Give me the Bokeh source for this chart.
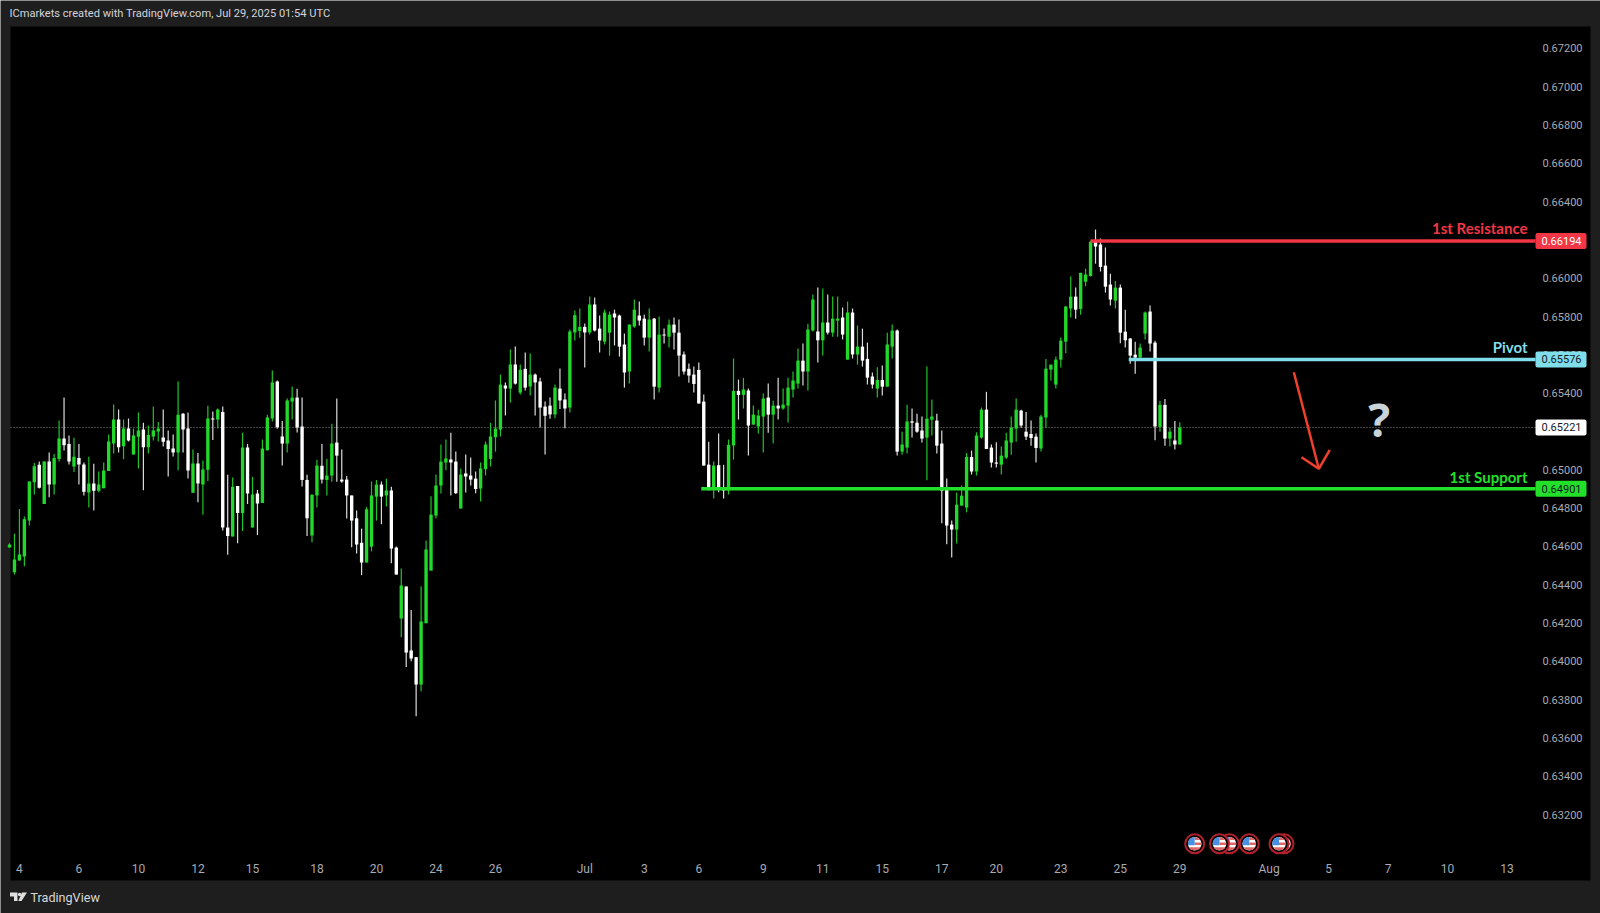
import numpy as np
from bokeh.plotting import figure
from bokeh.models import ColumnDataSource, Range1d, FixedTicker, LinearAxis, NumeralTickFormatter
from bokeh.core.properties import value
from bokeh.embed import file_html
from bokeh.resources import INLINE

# Prices in 1e-5 units
opens = [
64595,64465,64527,64547,64735,64935,65026,64822,65043,64923,
65057,65163,65135,65017,65062,65028,64881,64928,64890,64904,
64994,65137,65262,65123,65215,65080,65172,65210,65118,65174,
65200,65168,65153,65111,65090,65292,65215,64880,65033,64923,
65000,65268,65262,65302,64699,64652,64916,64775,65116,64699,
64876,64827,65102,65268,65461,65174,65137,65356,65377,65226,
64947,64657,64866,65021,64947,64970,65142,64949,64949,64866,
64747,64619,64516,64599,64860,64923,64866,64892,64594,64224,
64391,64057,64022,63879,64199,64474,64761,64918,65038,65054,
65043,64798,64981,64970,64954,64902,65003,65057,65170,65210,
65440,65424,65550,65403,65527,65435,65497,65461,65330,65335,
65289,65424,65367,65325,65717,65725,65746,65717,65863,65737,
65669,65716,65816,65805,65654,65513,65748,65805,65789,65690,
65789,65429,65706,65695,65758,65716,65602,65527,65497,65521,
65356,65027,64897,65024,64902,64892,65127,65412,65391,65414,
65236,65226,65278,65377,65288,65335,65320,65335,65419,65450,
65570,65513,65727,65722,65676,65769,65716,65779,65795,65575,
65821,65602,65643,65579,65487,65424,65469,65434,65643,65727,
65095,65116,65253,65246,65205,65168,65262,65257,65137,64900,
64714,64688,64813,64803,65067,64991,65168,65314,65116,65038,
65027,65064,65142,65215,65309,65199,65187,65173,65111,65273,
65523,65445,65575,65669,65842,65904,65840,65982,66012,66191,
66176,66066,65967,65883,65951,65721,65685,65601,65586,65711,
65826,65664,65224,65339,65163,65153,65132]
closes = [
64610,64532,64558,64742,64939,65019,64906,65043,64923,65062,
65163,65128,65043,65068,65028,64885,64928,64890,64923,64996,
65148,65262,65118,65215,65153,65179,65205,65118,65182,65205,
65215,65146,65109,65090,65287,65210,64996,65033,64928,65001,
65268,65262,65315,64699,64655,64911,64775,65116,64876,64871,
64824,65111,65273,65456,65222,65137,65362,65377,65221,64947,
64747,64869,65022,64949,64970,65137,65074,64939,64866,64735,
64610,64516,64794,64866,64923,64860,64892,64589,64453,64396,
64046,64015,63879,64208,64584,64766,64918,65043,65059,65038,
64878,64975,64965,64949,64900,65007,65132,65174,65215,65445,
65424,65550,65450,65522,65429,65497,65456,65325,65282,65289,
65429,65362,65320,65722,65807,65746,65717,65863,65727,65675,
65821,65810,65795,65643,65508,65758,65836,65779,65690,65784,
65434,65706,65701,65758,65716,65596,65513,65492,65448,65346,
65022,64902,65022,64897,64892,65130,65412,65391,65419,65231,
65288,65283,65372,65288,65335,65320,65340,65429,65466,65570,
65513,65732,65889,65676,65769,65716,65789,65789,65706,65821,
65602,65643,65570,65481,65445,65469,65434,65654,65727,65095,
65132,65252,65246,65199,65163,65267,65278,65126,64891,64709,
64688,64818,64865,65067,64991,65179,65314,65109,65038,65032,
65074,65153,65220,65314,65231,65173,65166,65114,65278,65528,
65549,65575,65674,65852,65904,65836,66028,66019,66191,66165,
66059,65956,65889,65951,65716,65676,65596,65586,65638,65821,
65659,65226,65339,65163,65199,65132,65221]
highs = [
64617,64666,64796,64756,64939,65036,65043,65043,65090,65083,
65257,65377,65179,65167,65135,65038,65068,65031,64991,65038,
65184,65341,65315,65262,65268,65215,65299,65245,65231,65330,
65250,65315,65205,65184,65461,65297,65299,65106,65088,65048,
65334,65304,65320,65330,64974,64960,64916,65193,65135,64963,
64895,65158,65287,65518,65466,65255,65372,65435,65423,65377,
64974,64874,65052,65135,65057,65240,65372,65106,64968,64866,
64787,64693,64805,64939,64947,64939,64953,64911,64599,64485,
64391,64268,64022,64391,64631,64862,64975,65132,65158,65193,
65095,65007,65080,65064,64991,65038,65148,65245,65362,65497,
65456,65628,65643,65550,65612,65607,65503,65480,65356,65377,
65445,65529,65398,65732,65831,65842,65764,65904,65899,65805,
65836,65826,65836,65810,65711,65758,65889,65878,65810,65842,
65793,65800,65737,65784,65795,65784,65617,65555,65539,65560,
65393,65147,65043,65189,65026,65158,65581,65471,65480,65424,
65335,65314,65398,65450,65361,65481,65424,65481,65513,65633,
65659,65763,65915,65951,65946,65915,65904,65904,65847,65878,
65842,65753,65737,65664,65508,65535,65544,65716,65758,65732,
65199,65340,65320,65293,65278,65539,65367,65293,65205,64954,
64735,64881,64918,65088,65100,65196,65325,65407,65132,65144,
65121,65193,65278,65372,65314,65302,65257,65189,65288,65579,
65549,65591,65690,65855,66009,65951,66029,66050,66197,66254,
66207,66160,66024,65986,65967,65836,65688,65669,65659,65826,
65857,65674,65360,65370,65220,65255,65248]
lows = [
64595,64453,64527,64497,64709,64871,64902,64822,64857,64871,
65043,65101,65028,64988,64923,64866,64803,64787,64883,64904,
64994,65085,65090,65055,65148,65080,65007,64893,65085,65153,
65148,65121,64965,65069,64998,65090,64954,64880,64831,64765,
64942,65156,65215,64683,64556,64652,64617,64680,64822,64699,
64659,64827,65101,65252,65214,65022,65090,65262,65195,64913,
64655,64622,64803,64928,64866,64937,64937,64932,64746,64596,
64563,64450,64516,64574,64735,64716,64808,64512,64453,64126,
63970,64000,63714,63844,64199,64474,64746,64876,64998,64866,
64874,64798,64881,64918,64878,64834,64970,65017,65095,65174,
65283,65351,65445,65393,65414,65388,65283,65221,65080,65266,
65269,65318,65217,65299,65675,65689,65534,65706,65722,65612,
65654,65596,65649,65591,65429,65450,65742,65753,65649,65617,
65367,65403,65659,65638,65628,65487,65497,65455,65403,65346,
65022,64892,64850,64883,64850,64871,65053,65262,65320,65074,
65236,65189,65090,65194,65137,65262,65314,65247,65377,65424,
65440,65414,65722,65560,65596,65706,65695,65695,65680,65575,
65581,65549,65539,65445,65424,65377,65388,65434,65581,65074,
65079,65085,65168,65194,65142,64945,65179,65085,64721,64611,
64542,64615,64813,64778,64975,64970,65163,65109,65012,65012,
64975,65057,65079,65147,65220,65156,65126,65038,65095,65220,
65466,65424,65534,65608,65795,65789,65810,65958,66009,66076,
66035,65925,65857,65842,65661,65638,65554,65502,65586,65680,
65617,65154,65199,65126,65121,65106,65132]

price_ticks = [0.632 + 0.002 * k for k in range(21)]
date_labels = ["4","6","10","12","15","18","20","24","26","Jul","3","6","9","11","15",
               "17","20","23","25","29","Aug","5","7","10","13"]
date_bars   = [2,14,26,38,49,62,74,86,98,116,128,139,152,164,176,188,199,212,224,236,254,266,278,290,302]

levels = {
    "1st Resistance": (0.66194, 218.0, "#f23645", "#ffffff", -13),
    "Pivot":          (0.65576, 225.7, "#80deea", "#131722", -12),
    "1st Support":    (0.64901, 139.5, "#22e02a", "#131722", -12),
}
last_price = 0.65221
event_bars = [239, 246, 244, 250, 257, 256]

BG = "#1e1e1e"
FONT = "Roboto"

# picture-pixel helpers for the chart furniture
BAR_W = 4.959
def X(px): return (px - 9) / BAR_W
def Y(py): return (65000 + (469.3 - py) * 5.22) / 1e5

p = figure(width=1600, height=913, output_backend="svg", toolbar_location=None,
           x_range=Range1d(X(0), X(1600)), y_range=Range1d(Y(913), Y(0)),
           x_axis_location=None, y_axis_location=None,
           min_border=0, background_fill_color=BG, border_fill_color=BG)
p.outline_line_color = None
p.grid.visible = False

# chart pane (price and time scales are part of it)
p.quad(left=[X(10)], right=[X(1590)], top=[Y(26)], bottom=[Y(880)],
       fill_color="#000000", line_color=None, level="underlay")

yaxis = LinearAxis(fixed_location=X(1535), ticker=FixedTicker(ticks=price_ticks),
                   formatter=NumeralTickFormatter(format="0.00000"))
xaxis = LinearAxis(fixed_location=Y(858), ticker=FixedTicker(ticks=date_bars),
                   major_label_overrides=dict(zip(date_bars, date_labels)))
p.add_layout(yaxis, "right")
p.add_layout(xaxis, "below")
for ax in (xaxis, yaxis):
    ax.axis_line_color = None
    ax.major_tick_line_color = None
    ax.minor_tick_line_color = None
    ax.major_tick_out = 0
    ax.major_tick_in = 0
    ax.major_label_text_color = "#a8abb3"
    ax.major_label_text_font = FONT
    ax.major_label_text_font_size = "12px"
yaxis.major_label_text_font_size = "11px"
yaxis.major_label_standoff = 7
xaxis.major_label_standoff = 3

o = np.array(opens) / 1e5; c = np.array(closes) / 1e5
h = np.array(highs) / 1e5; l = np.array(lows) / 1e5
idx = np.arange(len(o))
up = c >= o
GREEN = "#22d92b"; WHITE = "#ffffff"

# last-price line
p.segment(x0=[X(10)], x1=[X(1535)], y0=[last_price], y1=[last_price],
          line_color="#8a8a8a", line_width=1, line_dash="1 2")

for mask, col, wick in ((up, GREEN, "#1fc427"), (~up, WHITE, "#dcdcdc")):
    src = ColumnDataSource(dict(x=idx[mask], h=h[mask], l=l[mask],
                                top=np.maximum(o, c)[mask], bot=np.minimum(o, c)[mask]))
    p.segment(x0="x", x1="x", y0="h", y1="l", source=src, line_color=wick, line_width=1.2)
    p.vbar(x="x", width=0.68, top="top", bottom="bot", source=src, fill_color=col, line_color=None)

# levels
for name, (lvl, start, col, txt, off) in levels.items():
    p.segment(x0=[start], x1=[X(1535)], y0=[lvl], y1=[lvl], line_color=col, line_width=3.4)
    p.text(x=[X(1527)], y=[lvl], text=[name], text_color=col, text_align="right",
           text_baseline="middle", y_offset=off, text_font=value("Lato"),
           text_font_size="15px", text_font_style="bold")

# value tags on the price scale, above the tick labels
def tag(y, text, bg, fg):
    half = 8 * 5.22 / 1e5
    p.quad(left=[X(1535)], right=[X(1586)], top=[y + half], bottom=[y - half],
           fill_color=bg, line_color=None, border_radius=2, level="overlay")
    p.text(x=[X(1561)], y=[y], text=[text], text_align="center", text_baseline="middle",
           text_color=fg, text_font=value(FONT), text_font_size="11px", level="overlay")
for name, (lvl, start, col, txt, off) in levels.items():
    tag(lvl, f"{lvl:.5f}", col, txt)
tag(last_price, f"{last_price:.5f}", "#ffffff", "#131722")

# drawn arrow and question mark
RED = "#f0402e"
p.multi_line(xs=[[X(1293.3), X(1318.3)], [X(1301), X(1318.3), X(1329.3)]],
             ys=[[Y(371.7), Y(468.3)], [Y(456.7), Y(468.3), Y(449.3)]],
             line_color=RED, line_width=2.5)
p.text(x=[X(1378.6)], y=[Y(418.4)], text=["?"], text_color="#c9d3da", text_align="center",
       text_baseline="middle", text_font=value("Open Sans"), text_font_size="46px", text_font_style="bold")

# economic-event flags
def chord(cx, y0, y1, xmin, xmax, r=6.8):
    ys = np.linspace(y0, y1, 7)
    half = np.sqrt(np.maximum(r * r - ys * ys, 0))
    left = np.maximum(-half, xmin); right = np.minimum(half, xmax)
    xs = np.concatenate([left, right[::-1]]); yy = np.concatenate([ys, ys[::-1]])
    return list(cx + xs / BAR_W), list(Y(843.3 + yy))

flag_y = Y(843.3)
for b in event_bars:
    p.scatter([b], [flag_y], marker="circle", size=19, fill_color="#000000",
              line_color="#b3202c", line_width=2)
    p.scatter([b], [flag_y], marker="circle", size=13.6, fill_color="#ffffff", line_color=None)
    for y0, y1, xa, xb, col in ((-6.5, -3.8, 0, 9, "#e06666"), (-1.3, 1.2, 0, 9, "#e06666"),
                                (3.5, 6.3, -9, 9, "#e06666"), (-6.7, 1.5, -9, 0, "#4a90e2")):
        xs, ys = chord(b, y0, y1, xa, xb)
        p.patch(xs, ys, fill_color=col, line_color=None)

# header and footer
p.text(x=[X(9)], y=[Y(12.5)], text=["ICmarkets created with TradingView.com, Jul 29, 2025 01:54 UTC"],
       text_color="#d1d4dc", text_font=value(FONT), text_font_size="11.1px", text_baseline="middle")
p.text(x=[X(30)], y=[Y(897)], text=["TradingView"], text_color="#d8d8d8", text_font=value(FONT),
       text_font_size="12.6px", text_baseline="middle")
logo = [[(9.5, 892), (17, 892), (17, 900.5), (13.5, 900.5), (13.5, 896), (9.5, 896)],
        [(21.5, 892), (26.5, 892), (21, 900.5), (17.8, 900.5)]]
for poly in logo:
    p.patch([X(a) for a, b in poly], [Y(b) for a, b in poly], fill_color="#e0e0e0", line_color=None)
p.scatter([X(19.2)], [Y(894)], marker="circle", size=3.6, fill_color="#e0e0e0", line_color=None)

open("out.html", "w").write(file_html(p, INLINE))
